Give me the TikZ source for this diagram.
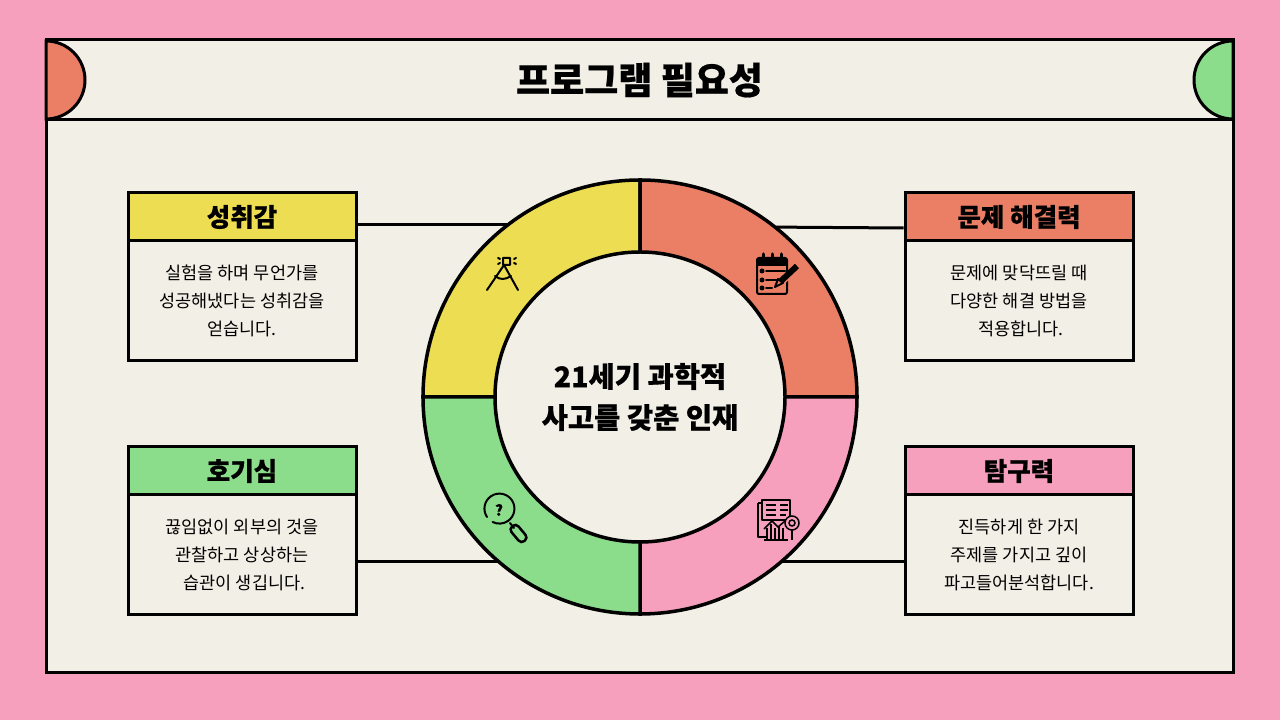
\documentclass[tikz,border=0pt]{standalone}
\usepackage{fontspec}
\setmainfont{Noto Sans CJK KR}[BoldFont={Noto Sans CJK KR Black},BoldFeatures={FakeBold=0.5}]
\usepackage{tikz}
\usetikzlibrary{positioning}

\definecolor{bgpink}{HTML}{F6A0BE}
\definecolor{cream}{HTML}{F2EFE6}
\definecolor{ringyellow}{HTML}{EDDD53}
\definecolor{ringred}{HTML}{EA7F66}
\definecolor{ringgreen}{HTML}{8BDC8B}

\tikzset{
    headbox/.style={draw=black, line width=3pt, minimum width=228pt, minimum height=48pt, inner sep=0pt, font=\fontsize{25.5}{25.5}\selectfont\bfseries},
    bodybox/.style={draw=black, line width=3pt, fill=cream, minimum width=228pt, minimum height=120pt, inner sep=0pt, align=center, font=\fontsize{17.5}{28}\selectfont},
    link/.style={line width=3pt},
    sector/.style={draw=black, line width=3.5pt},
    icon/.style={line width=2pt, line cap=round, line join=round}
}

\begin{document}
\begin{tikzpicture}[x=1pt, y=1pt]
    \useasboundingbox[fill=bgpink] (0,0) rectangle (1280,720);
    \node[draw=black, line width=3pt, fill=cream, minimum width=1187pt, minimum height=633pt, inner sep=0pt] (panel) at (639.5,363.5) {};
    \node[draw=black, line width=3pt, fill=cream, minimum width=1187pt, minimum height=80pt, inner sep=0pt, font=\fontsize{37}{37}\selectfont\bfseries] (title) at (639.5,640) {프로그램 필요성};

    % half discs at the ends of the title bar
    \begin{scope}
        \clip (title.north west) rectangle (title.south east);
        \draw[line width=3pt, fill=ringred] (46,679) arc[start angle=90, end angle=-90, radius=39pt] -- cycle;
        \draw[line width=3pt, fill=ringgreen] (1233,679) arc[start angle=90, end angle=270, radius=39pt] -- cycle;
    \end{scope}

    % cards
    \node[headbox, fill=ringyellow] (headA) at (242,503) {성취감};
    \node[bodybox, below=-3pt of headA] (bodyA) {실험을 하며 무언가를\\성공해냈다는 성취감을\\얻습니다.};
    \node[headbox, fill=ringgreen] (headB) at (242,249) {호기심};
    \node[bodybox, below=-3pt of headB] (bodyB) {끊임없이 외부의 것을\\관찰하고 상상하는\\\hspace{5pt}습관이 생깁니다.};
    \node[headbox, fill=ringred] (headC) at (1019,503) {문제 해결력};
    \node[bodybox, below=-3pt of headC] (bodyC) {문제에 맞닥뜨릴 때\\다양한 해결 방법을\\\hspace{4pt}적용합니다.};
    \node[headbox, fill=bgpink] (headD) at (1019,249) {탐구력};
    \node[bodybox, below=-3pt of headD] (bodyD) {진득하게 한 가지\\주제를 가지고 깊이\\파고들어분석합니다.};

    % ring
    \coordinate (ringC) at (640,323);
    \coordinate (ringA) at (520,495);
    \coordinate (ringB) at (520,158);
    \coordinate (ringE) at (760,493);
    \coordinate (ringD) at (760,158);
    \draw[link] (headA.east |- ringA) -- (ringA);
    \draw[link] (bodyB.east |- ringB) -- (ringB);
    \draw[link] (ringE) -- (headC.west |- 0,492);
    \draw[link] (ringD) -- (bodyD.west |- ringD);
    \draw[sector, fill=ringyellow] (ringC) -- ++(180:217pt) arc[start angle=180, end angle=90, radius=217pt] -- cycle;
    \draw[sector, fill=ringred] (ringC) -- ++(90:217pt) arc[start angle=90, end angle=0, radius=217pt] -- cycle;
    \draw[sector, fill=bgpink] (ringC) -- ++(0:217pt) arc[start angle=0, end angle=-90, radius=217pt] -- cycle;
    \draw[sector, fill=ringgreen] (ringC) -- ++(-90:217pt) arc[start angle=-90, end angle=-180, radius=217pt] -- cycle;
    \node[circle, draw=black, line width=3.5pt, fill=cream, minimum size=290pt, inner sep=0pt, align=center, font=\fontsize{28.5}{41}\selectfont\bfseries] (core) at (ringC) {21세기 과학적\\사고를 갖춘 인재};

    % icons, in image coordinates
    \begin{scope}[shift={(0,720)}, y=-1pt]
        \draw[icon] (503,258) rectangle (510,265) (504,265) -- (487,290) (504,265) -- (518,290);
        \draw[icon] (495,276) .. controls (500,280) and (505,280) .. (511,276);
        \draw[icon] (498,258) -- (500,259) (498,264) -- (500,263) (516,258) -- (514,259) (516,264) -- (514,263);

        \draw[icon, rounded corners=2pt] (757,258) rectangle (787,294);
        \fill[rounded corners=2pt] (757,258) rectangle (787,266);
        \draw[line width=3pt, line cap=round] (763,254) -- (763,260) (772,254) -- (772,260) (781,254) -- (781,260);
        \fill (762,271) circle (2.5pt) (762,280) circle (2.5pt) (762,288) circle (2.5pt);
        \draw[icon] (766,271) -- (785,271) (766,280) -- (778,280) (766,288) -- (772,288);
        \draw[line width=7pt, ringred] (776,287) -- (788,276);
        \draw[line width=6pt] (781,281) -- (797,266);
        \draw[line width=2pt, line join=round, fill=ringred] (775,287) -- (778,279) -- (783,283) -- cycle;

        \draw[icon] (487,517) arc[start angle=214, end angle=-117, radius=15pt];
        \node[font=\fontsize{15}{15}\selectfont\bfseries, inner sep=0pt] (quest) at (499,510) {?};
        \draw[icon] (510,523) -- (514,528);
        \draw[line width=2.5pt, rotate around={-50:(518.5,533.5)}, rounded corners=4pt] (509,529) rectangle (528,538);

        \draw[line width=1.5pt, line join=round] (758,503) -- (758,537) -- (766,537) (762,503) -- (758,503) (762,500) rectangle (790,520);
        \draw[line width=1.5pt] (766,505) -- (776,505) (780,505) -- (788,505) (766,510) -- (776,510) (780,510) -- (788,510) (766,515) -- (776,515) (780,515) -- (786,515);
        \draw[line width=1.5pt] (764,529) -- (772,521) -- (778,527) -- (785,521);
        \draw[line width=1.5pt] (764,540) -- (788,540) (767,540) -- (767,528) (771,540) -- (771,524) (775,540) -- (775,528) (779,540) -- (779,526) (783,540) -- (783,528);
        \draw[line width=1.5pt, fill=bgpink] (792,523) circle (7pt) (792,523) circle (3pt);
        \draw[line width=1.5pt] (792,530) -- (792,540);
    \end{scope}
\end{tikzpicture}
\end{document}
